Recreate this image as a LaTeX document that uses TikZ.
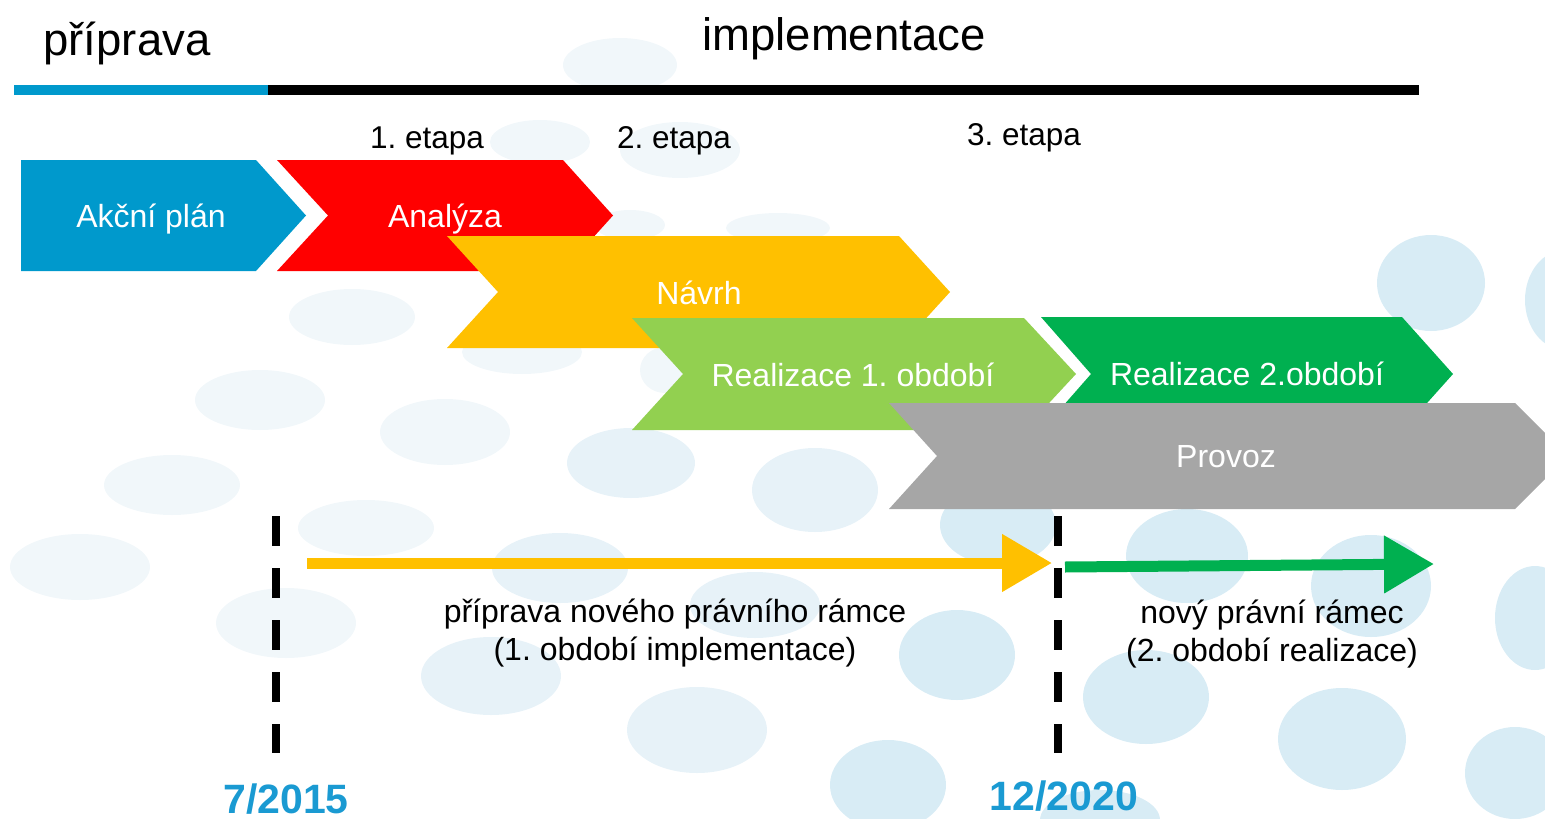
\documentclass[tikz,border=0pt]{standalone}
\usepackage{fontspec}
\setmainfont{Liberation Sans}
\usetikzlibrary{arrows.meta}
\frenchspacing
\definecolor{cblue}{HTML}{0099CC}
\definecolor{cred}{HTML}{FF0000}
\definecolor{cyellow}{HTML}{FFC000}
\definecolor{clgreen}{HTML}{92D050}
\definecolor{cgreen}{HTML}{00B050}
\definecolor{cgray}{HTML}{A6A6A6}
\definecolor{cdate}{HTML}{1A9AD2}
\definecolor{bubA}{HTML}{D8ECF5}
\definecolor{bubB}{HTML}{E7F2F8}
\definecolor{bubC}{HTML}{F1F7FA}
\begin{document}
\begin{tikzpicture}[x=1pt,y=-1pt,
  heading/.style={font=\fontsize{45.5}{50}\selectfont, anchor=base, inner sep=0pt},
  etapalbl/.style={font=\fontsize{31.5}{36}\selectfont, anchor=base, inner sep=0pt},
  boxlbl/.style={font=\fontsize{32}{36}\selectfont, text=white, anchor=base, inner sep=0pt},
  notelbl/.style={font=\fontsize{32}{36}\selectfont, anchor=base, inner sep=0pt},
  datelbl/.style={font=\fontsize{41}{46}\selectfont\bfseries, text=cdate, anchor=base, inner sep=0pt},
  marker/.style={line width=7.5pt, dash pattern=on 30pt off 22pt, black},
  period/.style={line width=11pt, -{Triangle[length=50pt,width=55pt]}},
  bubA/.style={fill=bubA, draw=none},
  bubB/.style={fill=bubB, draw=none},
  bubC/.style={fill=bubC, draw=none}]
\useasboundingbox (0,0) rectangle (1545,819);
\clip (0,0) rectangle (1545,819);
% background bubbles
\fill[bubC] (620,65) ellipse [x radius=57, y radius=27];
\fill[bubC] (540,142) ellipse [x radius=50, y radius=22];
\fill[bubC] (680,150) ellipse [x radius=60, y radius=28];
\fill[bubC] (630,225) ellipse [x radius=35, y radius=15];
\fill[bubC] (778,228) ellipse [x radius=52, y radius=15];
\fill[bubC] (352,317) ellipse [x radius=63, y radius=28];
\fill[bubC] (522,352) ellipse [x radius=60, y radius=22];
\fill[bubC] (665,370) ellipse [x radius=25, y radius=23];
\fill[bubC] (260,400) ellipse [x radius=65, y radius=30];
\fill[bubC] (445,432) ellipse [x radius=65, y radius=33];
\fill[bubC] (172,485) ellipse [x radius=68, y radius=30];
\fill[bubC] (80,567) ellipse [x radius=70, y radius=33];
\fill[bubC] (366,528) ellipse [x radius=68, y radius=28];
\fill[bubC] (286,623) ellipse [x radius=70, y radius=35];
\fill[bubB] (631,463) ellipse [x radius=64, y radius=35];
\fill[bubB] (560,568) ellipse [x radius=68, y radius=35];
\fill[bubB] (491,676) ellipse [x radius=70, y radius=39];
\fill[bubB] (755,605) ellipse [x radius=65, y radius=33];
\fill[bubB] (697,730) ellipse [x radius=70, y radius=43];
\fill[bubB] (815,490) ellipse [x radius=63, y radius=42];
\fill[bubA] (998,525) ellipse [x radius=58, y radius=40];
\fill[bubA] (1431,283) ellipse [x radius=54, y radius=48];
\fill[bubA] (1565,300) ellipse [x radius=40, y radius=50];
\fill[bubA] (1187,556) ellipse [x radius=61, y radius=47];
\fill[bubA] (1371,586) ellipse [x radius=60, y radius=51];
\fill[bubA] (1535,618) ellipse [x radius=40, y radius=52];
\fill[bubA] (957,655) ellipse [x radius=58, y radius=45];
\fill[bubA] (1146,697) ellipse [x radius=63, y radius=47];
\fill[bubA] (1342,739) ellipse [x radius=64, y radius=51];
\fill[bubA] (1515,773) ellipse [x radius=50, y radius=46];
\fill[bubA] (888,785) ellipse [x radius=58, y radius=45];
\fill[bubA] (1100,820) ellipse [x radius=60, y radius=30];
% top rule
\coordinate (r0) at (14,90);
\coordinate (r1) at (268,90);
\coordinate (r2) at (1419,90);
\draw[line width=10pt, cblue] (r0) -- (r1);
\draw[line width=10pt, black] (r1) -- (r2);
\node[heading] (hprep) at (127,55) {příprava};
\node[heading] (himpl) at (844,50) {implementace};
\node[etapalbl] (e1) at (427,148) {1. etapa};
\node[etapalbl] (e2) at (674,148) {2. etapa};
\node[etapalbl] (e3) at (1024,145) {3. etapa};
% chevrons
\fill[cblue] (21,160) -- (256,160) -- (306,215.5) -- (256,271) -- (21,271) -- cycle;
\fill[cred] (277,160) -- (563,160) -- (613,215.5) -- (563,271) -- (277,271) -- (328,215.5) -- cycle;
\node[boxlbl] (akc) at (151,227) {Akční plán};
\node[boxlbl] (ana) at (445,227) {Analýza};
\fill[cyellow] (447,236) -- (899,236) -- (950,292) -- (899,348) -- (447,348) -- (498,292) -- cycle;
\node[boxlbl] (nav) at (699,304) {Návrh};
\fill[clgreen] (632,318) -- (1024,318) -- (1076,374) -- (1024,430) -- (632,430) -- (683,374) -- cycle;
\fill[cgreen] (1041,317) -- (1402,317) -- (1453,374) -- (1402,431) -- (1041,431) -- (1091,374) -- cycle;
\node[boxlbl] (re1) at (853,386) {Realizace 1. období};
\node[boxlbl] (re2) at (1247,385) {Realizace 2.období};
\fill[cgray] (889,403) -- (1515,403) -- (1568,456) -- (1515,509) -- (889,509) -- (937,456) -- cycle;
\node[boxlbl] (pro) at (1226,467) {Provoz};
% dashed markers
\coordinate (m1t) at (276,516);
\coordinate (m1b) at (276,753);
\coordinate (m2t) at (1058,516);
\coordinate (m2b) at (1058,753);
\draw[marker] (m1t) -- (m1b);
\draw[marker] (m2t) -- (m2b);
% period arrows
\coordinate (ya) at (307,563);
\coordinate (yb) at (1052,563);
\coordinate (ga) at (1065,567);
\coordinate (gb) at (1434,564);
\draw[period, cyellow] (ya) -- (yb);
\draw[period, cgreen] (ga) -- (gb);
\node[notelbl] (n1a) at (675,622) {příprava nového právního rámce};
\node[notelbl] (n1b) at (675,660) {(1. období implementace)};
\node[notelbl] (n2a) at (1272,623) {nový právní rámec};
\node[notelbl] (n2b) at (1272,661) {(2. období realizace)};
\node[datelbl] (d1) at (286,813) {7/2015};
\node[datelbl] (d2) at (1064,810) {12/2020};
\end{tikzpicture}
\end{document}
